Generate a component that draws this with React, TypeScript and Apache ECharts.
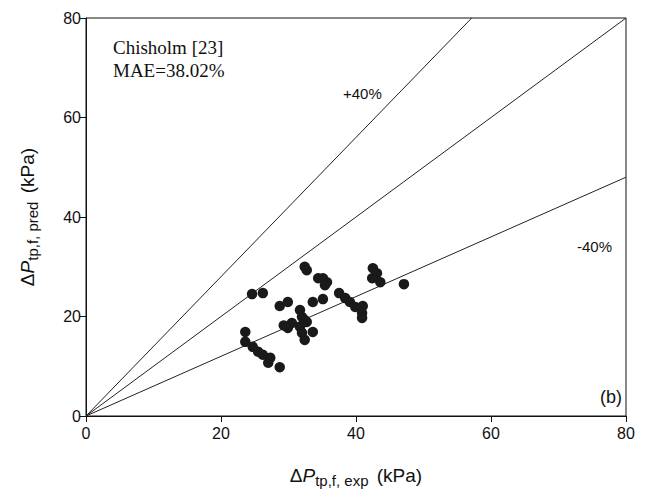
import React, { useEffect, useRef } from "react";
import * as echarts from "echarts";

const expValues = [
  32.4, 32.7, 34.4, 35.1, 35.7, 35.4, 42.5, 43.1, 42.4, 43.6, 47.1,
  24.6, 26.2, 28.7, 29.9, 33.6, 35.1,
  37.5, 38.4, 39.1, 39.9, 41.0, 40.9, 40.9,
  31.7, 32.0, 32.4, 32.7, 30.5, 29.9, 31.7, 32.0, 32.4, 33.6, 29.3,
  23.6, 23.6, 24.7, 25.5, 26.2, 27.3, 27.0, 28.7,
];
const predValues = [
  30.0, 29.3, 27.7, 27.7, 26.9, 26.3, 29.7, 28.7, 27.7, 26.9, 26.5,
  24.5, 24.7, 22.1, 22.9, 22.9, 23.5,
  24.7, 23.7, 22.9, 21.9, 22.1, 20.7, 19.7,
  21.3, 19.9, 19.3, 18.9, 18.7, 17.7, 17.9, 16.7, 15.3, 16.9, 18.2,
  16.9, 14.9, 13.9, 12.9, 12.3, 11.7, 10.7, 9.8,
];
const lineRatios = [1, 1.4, 0.6];
const axisMax = 80;
const tickStep = 20;
const annotation = ["Chisholm [23]", "MAE=38.02%"];
const bandLabels = ["+40%", "-40%"];
const panelLabel = "(b)";

export default function App() {
  const ref = useRef<HTMLDivElement>(null);
  useEffect(() => {
    if (!ref.current) return;
    const chart = echarts.init(ref.current, undefined, { renderer: "svg" });
    const points = expValues.map((x, i) => [x, predValues[i]]);
    const lineSeries = lineRatios.map((r) => {
      const xEnd = Math.min(axisMax, axisMax / r);
      return {
        type: "line",
        data: [
          [0, 0],
          [xEnd, xEnd * r],
        ],
        symbol: "none",
        lineStyle: { color: "#222", width: 1 },
        silent: true,
        z: 1,
      };
    });
    const tickFont = {
      color: "#111",
      fontFamily: "Liberation Sans, Arial, sans-serif",
      fontSize: 16,
    };
    const titleRich = {
      a: { fontSize: 19, fontFamily: "Liberation Sans, Arial", color: "#111", lineHeight: 22, verticalAlign: "top" as const },
      i: { fontSize: 19, fontFamily: "Liberation Sans, Arial", fontStyle: "italic" as const, color: "#111", lineHeight: 22, verticalAlign: "top" as const },
      s: { fontSize: 15, fontFamily: "Liberation Sans, Arial", color: "#111", lineHeight: 22, verticalAlign: "bottom" as const, padding: [6, 3, 0, 0] },
    };
    chart.setOption({
      animation: false,
      grid: {
        left: 86,
        top: 18,
        right: 20,
        bottom: 83,
        show: true,
        borderColor: "#111",
        borderWidth: 1,
        backgroundColor: "transparent",
        outerBoundsMode: "none",
        containLabel: false,
      },
      xAxis: {
        type: "value",
        min: 0,
        max: axisMax,
        interval: tickStep,
        axisLine: { show: true, lineStyle: { color: "#111" } },
        axisTick: { show: true, length: 6, lineStyle: { color: "#111" } },
        axisLabel: { ...tickFont, margin: 9 },
        splitLine: { show: false },
        name: "{a|Δ}{i|P}{s|tp,f, exp}{a| (kPa)}",
        nameLocation: "middle",
        nameGap: 50,
        nameTextStyle: { rich: titleRich },
      },
      yAxis: {
        type: "value",
        min: 0,
        max: axisMax,
        interval: tickStep,
        axisLine: { show: true, lineStyle: { color: "#111" } },
        axisTick: { show: true, length: 6, lineStyle: { color: "#111" } },
        axisLabel: { ...tickFont, margin: 5 },
        splitLine: { show: false },
        name: "{a|Δ}{i|P}{s|tp,f, pred}{a| (kPa)}",
        nameLocation: "middle",
        nameRotate: 90,
        nameGap: 46,
        nameTextStyle: { rich: titleRich },
      },
      series: [
        ...lineSeries,
        {
          type: "scatter",
          data: points,
          symbol: "circle",
          symbolSize: 10.5,
          itemStyle: { color: "#1a1a1a", opacity: 1 },
          z: 3,
        },
      ],
      graphic: [
        {
          type: "text",
          left: 113,
          top: 36,
          style: {
            text: annotation.join("\n"),
            font: "19px 'Liberation Serif', 'Times New Roman', serif",
            lineHeight: 23,
            fill: "#111",
          },
        },
        {
          type: "text",
          left: 343,
          top: 86,
          style: {
            text: bandLabels[0],
            font: "15px 'Liberation Sans', Arial, sans-serif",
            fill: "#111",
          },
        },
        {
          type: "text",
          left: 577,
          top: 239,
          style: {
            text: bandLabels[1],
            font: "15px 'Liberation Sans', Arial, sans-serif",
            fill: "#111",
          },
        },
        {
          type: "text",
          left: 600,
          top: 388,
          style: {
            text: panelLabel,
            font: "18px 'Liberation Sans', Arial, sans-serif",
            fill: "#111",
          },
        },
      ],
    });
    return () => chart.dispose();
  }, []);
  return <div ref={ref} style={{ width: 646, height: 499, margin: -8 }} />;
}
